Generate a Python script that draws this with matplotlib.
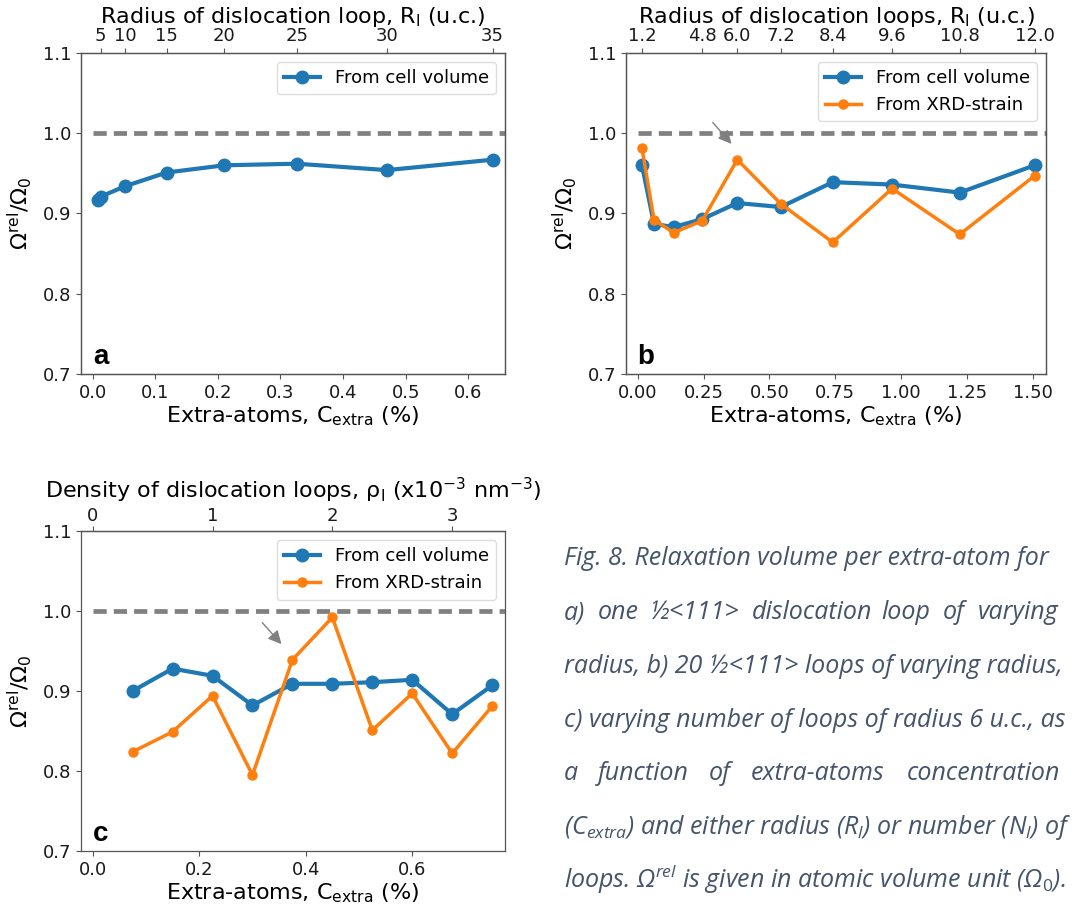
import matplotlib
matplotlib.use("Agg")
import matplotlib.pyplot as plt
import numpy as np

# panel a: one loop of varying radius
c_a = [0.0085, 0.013, 0.052, 0.118, 0.210, 0.326, 0.470, 0.639]
cell_a = [0.917, 0.921, 0.934, 0.951, 0.960, 0.962, 0.954, 0.967]
r_a_ticks = [0.013, 0.052, 0.118, 0.210, 0.326, 0.470, 0.639]
r_a_labels = ["5", "10", "15", "20", "25", "30", "35"]

# panel b: 20 loops of varying radius
c_b = [0.0164, 0.062, 0.137, 0.245, 0.378, 0.543, 0.740, 0.965, 1.222, 1.506]
cell_b = [0.960, 0.887, 0.883, 0.893, 0.913, 0.908, 0.939, 0.936, 0.926, 0.960]
xrd_b = [0.981, 0.892, 0.876, 0.891, 0.967, 0.912, 0.864, 0.931, 0.874, 0.947]
r_b_ticks = [0.0164, 0.245, 0.378, 0.543, 0.740, 0.965, 1.222, 1.506]
r_b_labels = ["1.2", "4.8", "6.0", "7.2", "8.4", "9.6", "10.8", "12.0"]

# panel c: varying number of loops of radius 6 u.c.
c_c = [0.075, 0.15, 0.225, 0.30, 0.375, 0.45, 0.525, 0.60, 0.675, 0.75]
cell_c = [0.900, 0.928, 0.919, 0.882, 0.909, 0.909, 0.911, 0.914, 0.871, 0.907]
xrd_c = [0.824, 0.849, 0.894, 0.795, 0.939, 0.992, 0.851, 0.897, 0.822, 0.881]
rho_ticks = [0, 1, 2, 3]
c_per_rho = 0.225

BLUE = "#1f77b4"
ORANGE = "#ff7f0e"
TICK_FS = 13
LABEL_FS = 16

plt.rcParams["font.family"] = ["DejaVu Sans"]
plt.rcParams["axes.edgecolor"] = "#555555"
plt.rcParams["axes.linewidth"] = 0.9
plt.rcParams["xtick.color"] = "#555555"
plt.rcParams["ytick.color"] = "#555555"
plt.rcParams["xtick.labelcolor"] = "#1a1a1a"
plt.rcParams["ytick.labelcolor"] = "#1a1a1a"
plt.rcParams["mathtext.rm"] = "Open Sans"
plt.rcParams["mathtext.it"] = "Open Sans:italic"

fig = plt.figure(figsize=(10.75, 9.13), dpi=100)

ax_a = fig.add_axes([0.0753, 0.5904, 0.3944, 0.3516])
ax_b = fig.add_axes([0.5823, 0.5904, 0.3907, 0.3516])
ax_c = fig.add_axes([0.0753, 0.0679, 0.3944, 0.3505])

xlims = {"a": (-0.0187, 0.6586), "b": (-0.0444, 1.549), "c": (-0.022, 0.774)}


def base_axes(ax, key, letter):
    lo, hi = xlims[key]
    ax.hlines(1.0, 0, hi + 1, colors="gray", linewidth=3.4, linestyles=(0, (2.8, 1.5)), zorder=1)
    ax.set_xlim(lo, hi)
    ax.set_ylim(0.7, 1.1)
    ax.set_yticks([0.7, 0.8, 0.9, 1.0, 1.1])
    ax.tick_params(labelsize=TICK_FS)
    ax.set_xlabel(r"Extra-atoms, C$_\mathrm{extra}$ (%)", fontsize=LABEL_FS, labelpad=2)
    ax.set_ylabel(r"$\Omega^\mathrm{rel}/\Omega_0$", fontsize=LABEL_FS, labelpad=6)
    ax.text(0.028, 0.03, letter, transform=ax.transAxes, fontsize=20,
            fontweight="bold", family="Liberation Sans", color="black")


def legend(ax):
    leg = ax.legend(loc="upper right", fontsize=TICK_FS, framealpha=1.0)
    leg.get_frame().set_edgecolor("#dddddd")


# ---- a
base_axes(ax_a, "a", "a")
ax_a.plot(c_a, cell_a, "-o", color=BLUE, lw=3, ms=9, label="From cell volume")
ax_a.set_xticks([0.0, 0.1, 0.2, 0.3, 0.4, 0.5, 0.6])
legend(ax_a)
top_a = ax_a.twiny()
top_a.set_xlim(ax_a.get_xlim())
top_a.set_xticks(r_a_ticks)
top_a.set_xticklabels(r_a_labels)
top_a.tick_params(labelsize=TICK_FS, pad=2)
top_a.set_xlabel(r"Radius of dislocation loop, R$_\mathrm{l}$ (u.c.)", fontsize=LABEL_FS, labelpad=3)

# ---- b
base_axes(ax_b, "b", "b")
ax_b.plot(c_b, cell_b, "-o", color=BLUE, lw=3, ms=9, label="From cell volume")
ax_b.plot(c_b, xrd_b, "-o", color=ORANGE, lw=2.5, ms=6.5, label="From XRD-strain")
ax_b.set_xticks([0.0, 0.25, 0.5, 0.75, 1.0, 1.25, 1.5])
ax_b.set_xticklabels(["0.00", "0.25", "0.50", "0.75", "1.00", "1.25", "1.50"])
legend(ax_b)
ax_b.annotate("", xy=(0.363, 0.984), xytext=(0.278, 1.016),
              arrowprops=dict(arrowstyle="-|>", color="gray", lw=1, mutation_scale=20))
top_b = ax_b.twiny()
top_b.set_xlim(ax_b.get_xlim())
top_b.set_xticks(r_b_ticks)
top_b.set_xticklabels(r_b_labels)
top_b.tick_params(labelsize=TICK_FS, pad=2)
top_b.set_xlabel(r"Radius of dislocation loops, R$_\mathrm{l}$ (u.c.)", fontsize=LABEL_FS, labelpad=3)

# ---- c
base_axes(ax_c, "c", "c")
ax_c.plot(c_c, cell_c, "-o", color=BLUE, lw=3, ms=9, label="From cell volume")
ax_c.plot(c_c, xrd_c, "-o", color=ORANGE, lw=2.5, ms=6.5, label="From XRD-strain")
ax_c.set_xticks([0.0, 0.2, 0.4, 0.6])
legend(ax_c)
ax_c.annotate("", xy=(0.358, 0.956), xytext=(0.315, 0.988),
              arrowprops=dict(arrowstyle="-|>", color="gray", lw=1, mutation_scale=20))
top_c = ax_c.secondary_xaxis("top", functions=(lambda c: c / c_per_rho, lambda r: r * c_per_rho))
top_c.set_xticks(rho_ticks)
top_c.tick_params(labelsize=TICK_FS, pad=1)
top_c.set_xlabel(r"Density of dislocation loops, ρ$_\mathrm{l}$ (x10$^{-3}$ nm$^{-3}$)",
                 fontsize=LABEL_FS, labelpad=6)

# ---- caption
CAP = dict(fontsize=18, style="italic", color="#44546A", family=["Open Sans", "DejaVu Sans"],
           va="baseline", math_fontfamily="custom")


def ypix(p):
    return 1 - p / 913


def xpix(p):
    return p / 1075


fig.text(xpix(564), ypix(565), "Fig. 8. Relaxation volume per extra-atom for", **CAP)
for word, xp in [("a)", 564), ("one", 598), ("½<111>", 650), ("dislocation", 752),
                 ("loop", 881), ("of", 943), ("varying", 978)]:
    fig.text(xpix(xp), ypix(619), word, **CAP)
fig.text(xpix(564), ypix(673), "radius, b) 20 ½<111> loops of varying radius,", **CAP)
fig.text(xpix(564), ypix(727), "c) varying number of loops of radius 6 u.c., as", **CAP)
for word, xp in [("a", 564), ("function", 598), ("of", 709), ("extra-atoms", 751),
                 ("concentration", 907)]:
    fig.text(xpix(xp), ypix(780), word, **CAP)
fig.text(xpix(564), ypix(834), r"(C$_{extra}$) and either radius (R$_{l}$) or number (N$_{l}$) of", **CAP)
fig.text(xpix(564), ypix(888), r"loops. Ω$^{rel}$ is given in atomic volume unit (Ω$_{0}$).", **CAP)

fig.savefig("out.png", dpi=100)
